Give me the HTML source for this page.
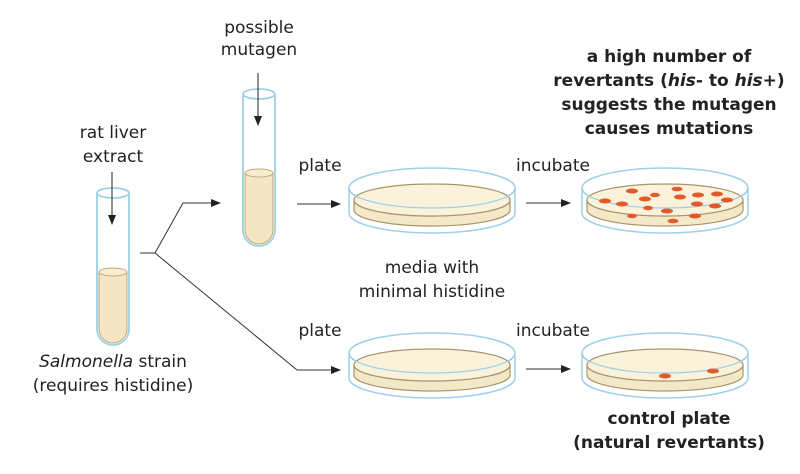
<!DOCTYPE html>
<html><head><meta charset="utf-8"><style>
html,body{margin:0;padding:0;background:#fff;}
svg{display:block;}
text{font-family:"DejaVu Sans","Liberation Sans",sans-serif;font-size:17px;fill:#222;}
.b{font-weight:bold;}
</style></head><body>
<svg width="800" height="474" viewBox="0 0 800 474" xmlns="http://www.w3.org/2000/svg">
<defs>
<marker id="ah" markerWidth="10" markerHeight="8" refX="9" refY="4" orient="auto" markerUnits="userSpaceOnUse">
<path d="M0,0 L10,4 L0,8 Z" fill="#222"/></marker>
<g id="dish">
<ellipse cx="0" cy="0" rx="83" ry="20" fill="none" stroke="#9fd0e6" stroke-width="1.5"/>
<path d="M-78,22 A78,16 0 0 0 78,22 L78,12 A78,16 0 0 1 -78,12 Z" fill="#f3e9c9" stroke="#a8956a" stroke-width="1.2"/>
<ellipse cx="0" cy="12" rx="78" ry="16" fill="#faf2da" stroke="#a8956a" stroke-width="1.2"/>
<path d="M-83,0 L-83,25 A83,20 0 0 0 83,25 L83,0" fill="none" stroke="#9fd0e6" stroke-width="1.5"/>
<path d="M-83,0 A83,20 0 0 0 83,0" fill="none" stroke="#9fd0e6" stroke-width="1.2"/>
</g>
</defs>

<!-- tube 1 -->
<path d="M99,272 L99,329 A14,14 0 0 0 127,329 L127,272 Z" fill="#f3e6c2" stroke="#bfa877" stroke-width="1"/>
<ellipse cx="113" cy="272" rx="14" ry="4" fill="#f7edd0" stroke="#bfa877"/>
<path d="M97,193 L97,329 A16,16 0 0 0 129,329 L129,193" fill="none" stroke="#9fd0e6" stroke-width="1.8"/>
<ellipse cx="113" cy="193" rx="16" ry="5" fill="none" stroke="#9fd0e6" stroke-width="1.8"/>
<line x1="112" y1="172" x2="112" y2="224" stroke="#222" marker-end="url(#ah)"/>

<!-- tube 2 -->
<path d="M245,173 L245,230 A14,14 0 0 0 273,230 L273,173 Z" fill="#f3e6c2" stroke="#bfa877" stroke-width="1"/>
<ellipse cx="259" cy="173" rx="14" ry="4" fill="#f7edd0" stroke="#bfa877"/>
<path d="M243,94 L243,230 A16,16 0 0 0 275,230 L275,94" fill="none" stroke="#9fd0e6" stroke-width="1.8"/>
<ellipse cx="259" cy="94" rx="16" ry="5" fill="none" stroke="#9fd0e6" stroke-width="1.8"/>
<line x1="258" y1="73" x2="258" y2="125" stroke="#222" marker-end="url(#ah)"/>

<!-- connectors -->
<polyline points="140,253 155,253 183,203 220,203" fill="none" stroke="#333" marker-end="url(#ah)"/>
<polyline points="155,253 297,370 340,370" fill="none" stroke="#333" marker-end="url(#ah)"/>
<line x1="297" y1="204" x2="340" y2="204" stroke="#333" marker-end="url(#ah)"/>
<line x1="526" y1="203" x2="570" y2="203" stroke="#333" marker-end="url(#ah)"/>
<line x1="526" y1="369" x2="570" y2="369" stroke="#333" marker-end="url(#ah)"/>

<!-- dishes -->
<use href="#dish" x="432" y="188"/>
<use href="#dish" x="665" y="188"/>
<use href="#dish" x="432" y="353"/>
<use href="#dish" x="665" y="353"/>

<g fill="#e05a2b">
<ellipse cx="632" cy="191" rx="6" ry="2.5"/><ellipse cx="655" cy="195" rx="5" ry="2.2"/>
<ellipse cx="677" cy="189" rx="5.5" ry="2.3"/><ellipse cx="698" cy="195" rx="6" ry="2.5"/>
<ellipse cx="717" cy="194" rx="6" ry="2.5"/><ellipse cx="605" cy="201" rx="6" ry="2.5"/>
<ellipse cx="622" cy="204" rx="6" ry="2.5"/><ellipse cx="645" cy="199" rx="6" ry="2.5"/>
<ellipse cx="680" cy="197" rx="6" ry="2.5"/><ellipse cx="727" cy="200" rx="6" ry="2.5"/>
<ellipse cx="697" cy="204" rx="6" ry="2.5"/><ellipse cx="715" cy="206" rx="6" ry="2.5"/>
<ellipse cx="648" cy="208" rx="5" ry="2.2"/><ellipse cx="667" cy="211" rx="6" ry="2.5"/>
<ellipse cx="632" cy="216" rx="5" ry="2.2"/><ellipse cx="673" cy="221" rx="5.5" ry="2.3"/>
<ellipse cx="695" cy="216" rx="6" ry="2.5"/>
<ellipse cx="665" cy="376" rx="6" ry="2.5"/><ellipse cx="713" cy="371" rx="6" ry="2.5"/>
</g>

<!-- labels -->
<g text-anchor="middle">
<text x="113" y="138">rat liver</text>
<text x="113" y="162">extract</text>
<text x="259" y="33">possible</text>
<text x="259" y="55">mutagen</text>
<text x="320" y="171">plate</text>
<text x="553" y="171">incubate</text>
<text x="432" y="273">media with</text>
<text x="432" y="297">minimal histidine</text>
<text x="320" y="336">plate</text>
<text x="553" y="336">incubate</text>
<text x="113" y="367"><tspan font-style="italic">Salmonella</tspan> strain</text>
<text x="113" y="391">(requires histidine)</text>
<text class="b" x="669" y="62">a high number of</text>
<text class="b" x="669" y="86">revertants (<tspan font-style="italic">his</tspan>- to <tspan font-style="italic">his</tspan>+)</text>
<text class="b" x="669" y="110">suggests the mutagen</text>
<text class="b" x="669" y="134">causes mutations</text>
<text class="b" x="669" y="424">control plate</text>
<text class="b" x="669" y="448">(natural revertants)</text>
</g>
</svg>
</body></html>
